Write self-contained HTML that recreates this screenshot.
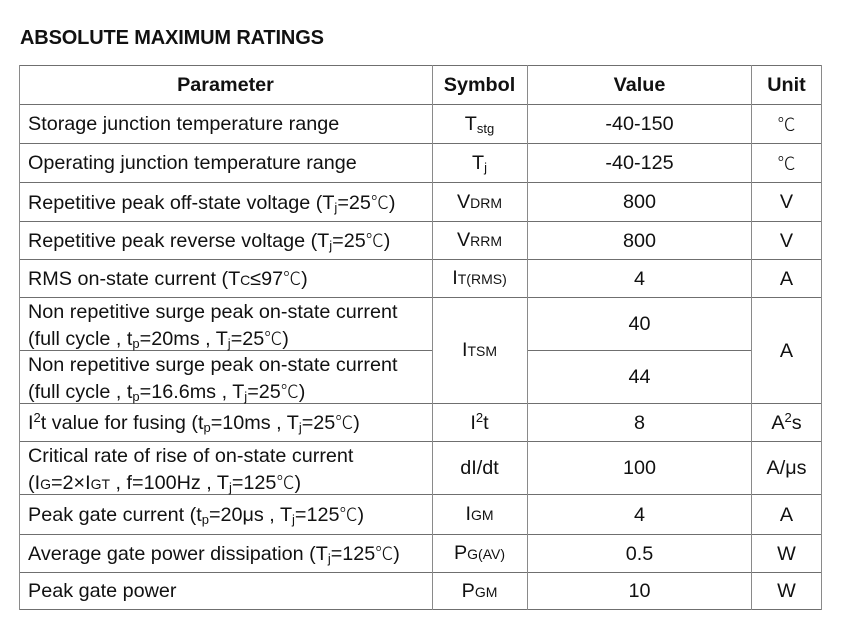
<!DOCTYPE html>
<html><head><meta charset="utf-8"><style>
body{margin:0;width:850px;height:627px;background:#fff;position:relative;font-family:"Liberation Sans",Arial,"Noto Sans CJK SC",sans-serif;color:#111;overflow:hidden}
.t{position:absolute;left:20px;top:27px;font-weight:bold;font-size:20px;letter-spacing:-0.15px}
.h{position:absolute;height:1px;background:#6f6f6f}
.v{position:absolute;width:1px;background:#8a8a8a}
.c{position:absolute;display:flex;align-items:center;font-size:19.8px;line-height:26px;white-space:nowrap;padding-top:1px;box-sizing:border-box}
.l{left:28px;width:400px}
.s{left:432px;width:95px;justify-content:center}
.val{left:528px;width:223px;justify-content:center}
.u{left:751px;width:71px;justify-content:center}
sub{font-size:13px;vertical-align:-3px;line-height:0}
.sb{font-size:14px}
sup{font-size:13px;line-height:0;vertical-align:7px}
b{font-weight:bold}
.dc{font-family:"Noto Sans CJK SC",sans-serif;font-weight:300;font-size:18px}
</style></head><body>
<div class="t">ABSOLUTE MAXIMUM RATINGS</div>
<div class="h" style="left:19px;width:803px;top:65px"></div>
<div class="h" style="left:19px;width:803px;top:104px"></div>
<div class="h" style="left:19px;width:803px;top:143px"></div>
<div class="h" style="left:19px;width:803px;top:182px"></div>
<div class="h" style="left:19px;width:803px;top:221px"></div>
<div class="h" style="left:19px;width:803px;top:259px"></div>
<div class="h" style="left:19px;width:803px;top:297px"></div>
<div class="h" style="left:19px;width:413px;top:350px"></div>
<div class="h" style="left:527px;width:224px;top:350px"></div>
<div class="h" style="left:19px;width:803px;top:403px"></div>
<div class="h" style="left:19px;width:803px;top:441px"></div>
<div class="h" style="left:19px;width:803px;top:494px"></div>
<div class="h" style="left:19px;width:803px;top:534px"></div>
<div class="h" style="left:19px;width:803px;top:572px"></div>
<div class="h" style="left:19px;width:803px;top:609px"></div>
<div class="v" style="left:19px;top:65px;height:545px"></div>
<div class="v" style="left:432px;top:65px;height:545px"></div>
<div class="v" style="left:527px;top:65px;height:545px"></div>
<div class="v" style="left:751px;top:65px;height:545px"></div>
<div class="v" style="left:821px;top:65px;height:545px"></div>

<div class="c" style="left:19px;width:413px;justify-content:center;top:65px;height:39px"><b>Parameter</b></div>
<div class="c s" style="top:65px;height:39px"><b>Symbol</b></div>
<div class="c val" style="top:65px;height:39px"><b>Value</b></div>
<div class="c u" style="top:65px;height:39px"><b>Unit</b></div>

<div class="c l" style="top:104px;height:39px"><span>Storage junction temperature range</span></div>
<div class="c s" style="top:104px;height:39px"><span>T<sub>stg</sub></span></div>
<div class="c val" style="top:104px;height:39px"><span>-40-150</span></div>
<div class="c u" style="top:104px;height:39px"><span class="dc">℃</span></div>

<div class="c l" style="top:143px;height:39px"><span>Operating junction temperature range</span></div>
<div class="c s" style="top:143px;height:39px"><span>T<sub>j</sub></span></div>
<div class="c val" style="top:143px;height:39px"><span>-40-125</span></div>
<div class="c u" style="top:143px;height:39px"><span class="dc">℃</span></div>

<div class="c l" style="top:182px;height:39px"><span>Repetitive peak off-state voltage (T<sub>j</sub>=25<span class="dc">℃</span>)</span></div>
<div class="c s" style="top:182px;height:39px"><span>V<span class="sb">DRM</span></span></div>
<div class="c val" style="top:182px;height:39px"><span>800</span></div>
<div class="c u" style="top:182px;height:39px"><span>V</span></div>

<div class="c l" style="top:221px;height:38px"><span>Repetitive peak reverse voltage (T<sub>j</sub>=25<span class="dc">℃</span>)</span></div>
<div class="c s" style="top:221px;height:38px"><span>V<span class="sb">RRM</span></span></div>
<div class="c val" style="top:221px;height:38px"><span>800</span></div>
<div class="c u" style="top:221px;height:38px"><span>V</span></div>

<div class="c l" style="top:259px;height:38px"><span>RMS on-state current (T<span class="sb">C</span>≤97<span class="dc">℃</span>)</span></div>
<div class="c s" style="top:259px;height:38px"><span>I<span class="sb">T(RMS)</span></span></div>
<div class="c val" style="top:259px;height:38px"><span>4</span></div>
<div class="c u" style="top:259px;height:38px"><span>A</span></div>

<div class="c l" style="top:298px;height:53px;display:block"><div>Non repetitive surge peak on-state current</div><div>(full cycle , t<sub>p</sub>=20ms , T<sub>j</sub>=25<span class="dc">℃</span>)</div></div>
<div class="c l" style="top:351px;height:53px;display:block"><div>Non repetitive surge peak on-state current</div><div>(full cycle , t<sub>p</sub>=16.6ms , T<sub>j</sub>=25<span class="dc">℃</span>)</div></div>
<div class="c s" style="top:297px;height:106px"><span>I<span class="sb">TSM</span></span></div>
<div class="c val" style="top:297px;height:53px"><span>40</span></div>
<div class="c val" style="top:350px;height:53px"><span>44</span></div>
<div class="c u" style="top:297px;height:106px"><span>A</span></div>

<div class="c l" style="top:403px;height:38px"><span>I<sup>2</sup>t value for fusing (t<sub>p</sub>=10ms , T<sub>j</sub>=25<span class="dc">℃</span>)</span></div>
<div class="c s" style="top:403px;height:38px"><span>I<sup>2</sup>t</span></div>
<div class="c val" style="top:403px;height:38px"><span>8</span></div>
<div class="c u" style="top:403px;height:38px"><span>A<sup>2</sup>s</span></div>

<div class="c l" style="top:442px;height:53px;display:block"><div>Critical rate of rise of on-state current</div><div>(I<span class="sb">G</span>=2×I<span class="sb">GT</span> , f=100Hz , T<sub>j</sub>=125<span class="dc">℃</span>)</div></div>
<div class="c s" style="top:441px;height:53px"><span>dI/dt</span></div>
<div class="c val" style="top:441px;height:53px"><span>100</span></div>
<div class="c u" style="top:441px;height:53px"><span>A/μs</span></div>

<div class="c l" style="top:494px;height:40px"><span>Peak gate current (t<sub>p</sub>=20μs , T<sub>j</sub>=125<span class="dc">℃</span>)</span></div>
<div class="c s" style="top:494px;height:40px"><span>I<span class="sb">GM</span></span></div>
<div class="c val" style="top:494px;height:40px"><span>4</span></div>
<div class="c u" style="top:494px;height:40px"><span>A</span></div>

<div class="c l" style="top:534px;height:38px"><span>Average gate power dissipation (T<sub>j</sub>=125<span class="dc">℃</span>)</span></div>
<div class="c s" style="top:534px;height:38px"><span>P<span class="sb">G(AV)</span></span></div>
<div class="c val" style="top:534px;height:38px"><span>0.5</span></div>
<div class="c u" style="top:534px;height:38px"><span>W</span></div>

<div class="c l" style="top:572px;height:37px"><span>Peak gate power</span></div>
<div class="c s" style="top:572px;height:37px"><span>P<span class="sb">GM</span></span></div>
<div class="c val" style="top:572px;height:37px"><span>10</span></div>
<div class="c u" style="top:572px;height:37px"><span>W</span></div>
</body></html>
